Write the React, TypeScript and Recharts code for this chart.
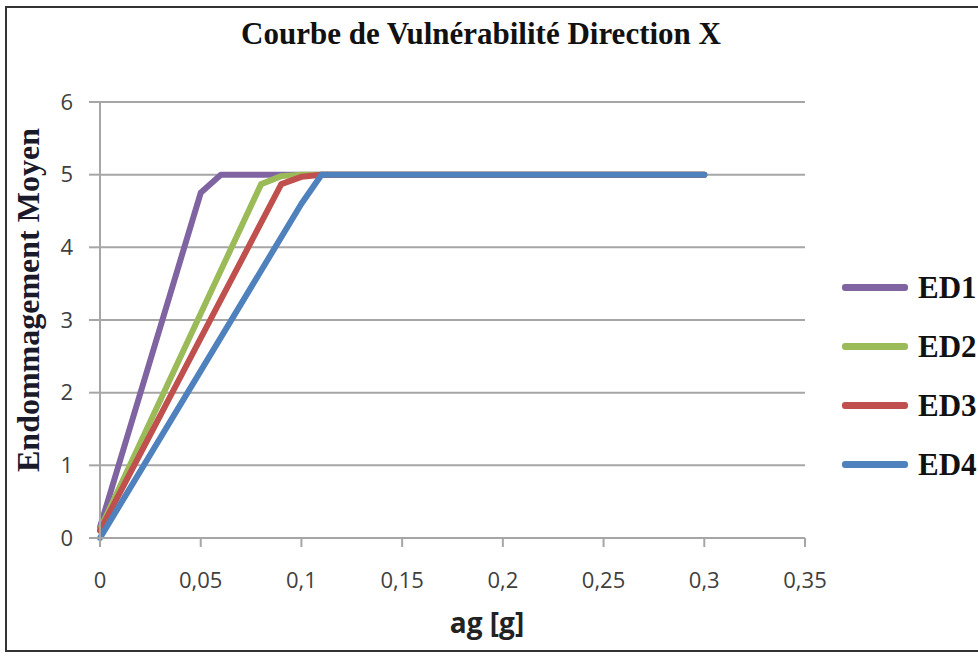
import { CartesianGrid, Line, LineChart, XAxis, YAxis } from 'recharts'

const xTicks = [0, 0.05, 0.1, 0.15, 0.2, 0.25, 0.3, 0.35]
const yTicks = [0, 1, 2, 3, 4, 5, 6]

const ed1Ag = [0, 0.05, 0.06, 0.3]
const ed1Val = [0.15, 4.75, 5, 5]
const ed2Ag = [0, 0.08, 0.09, 0.1, 0.3]
const ed2Val = [0.12, 4.87, 4.98, 5, 5]
const ed3Ag = [0, 0.09, 0.1, 0.11, 0.3]
const ed3Val = [0.1, 4.87, 4.97, 5, 5]
const ed4Ag = [0, 0.1, 0.11, 0.3]
const ed4Val = [0, 4.6, 5, 5]

const toRows = (ag: number[], v: number[]) => ag.map((a, i) => ({ ag: a, v: v[i] }))

const series = [
  { name: 'ED1', color: '#8064A2', data: toRows(ed1Ag, ed1Val) },
  { name: 'ED2', color: '#9BBB59', data: toRows(ed2Ag, ed2Val) },
  { name: 'ED3', color: '#C0504D', data: toRows(ed3Ag, ed3Val) },
  { name: 'ED4', color: '#4F81BD', data: toRows(ed4Ag, ed4Val) },
]

const serif = '"Liberation Serif", "Times New Roman", serif'
const sans = '"Open Sans", "Noto Sans", sans-serif'

function LegendBox() {
  return (
    <div style={{ position: 'absolute', left: 842, top: 258, fontFamily: serif }}>
      {series.map(s => (
        <div key={s.name} style={{ display: 'flex', alignItems: 'center', height: 59 }}>
          <div style={{ width: 66, height: 7, borderRadius: 3, background: s.color, marginRight: 10 }} />
          <span style={{ fontSize: 31, fontWeight: 'bold', color: '#111' }}>{s.name}</span>
        </div>
      ))}
    </div>
  )
}

export default function App() {
  return (
    <div style={{ position: 'absolute', left: 0, top: 0, width: 978, height: 658, overflow: 'hidden', background: '#fff' }}>
      <div style={{ position: 'absolute', left: 5, top: 6, width: 1000, height: 646, border: '2px solid #333', boxSizing: 'border-box' }} />
      <div style={{ position: 'absolute', left: 0, top: 16, width: 962, textAlign: 'center', fontFamily: serif, fontWeight: 'bold', fontSize: 31, color: '#111' }}>
        Courbe de Vulnérabilité Direction X
      </div>
      <div
        style={{
          position: 'absolute', left: 28, top: 300, transform: 'translate(-50%, -50%) rotate(-90deg)', whiteSpace: 'nowrap',
          fontFamily: serif, fontWeight: 'bold', fontSize: 32, color: '#1a1a2a',
        }}
      >
        Endommagement Moyen
      </div>
      <div style={{ position: 'absolute', left: 427, top: 603, width: 120, textAlign: 'center', fontFamily: sans, fontWeight: 'bold', fontSize: 28, color: '#222' }}>
        ag [g]
      </div>
      <LegendBox />
      <LineChart width={978} height={658} margin={{ top: 102, right: 173, bottom: 0, left: 0 }}>
        <CartesianGrid vertical={false} stroke="#a6a6a6" strokeWidth={2} />
        <XAxis
          type="number"
          dataKey="ag"
          domain={[0, 0.35]}
          ticks={xTicks}
          height={120}
          tickSize={9}
          tickMargin={25}
          stroke="#a6a6a6"
          strokeWidth={2}
          tick={{ fontSize: 22, fill: '#404040', fontFamily: sans }}
          tickFormatter={(v: number) => String(v).replace('.', ',')}
          allowDuplicatedCategory={false}
        />
        <YAxis
          type="number"
          domain={[0, 6]}
          ticks={yTicks}
          width={100}
          tickSize={11}
          tickMargin={16}
          stroke="#a6a6a6"
          strokeWidth={2}
          tick={{ fontSize: 22, fill: '#404040', fontFamily: sans }}
        />
        {series.map(s => (
          <Line
            key={s.name}
            data={s.data}
            dataKey="v"
            name={s.name}
            stroke={s.color}
            strokeWidth={6}
            strokeLinejoin="round"
            strokeLinecap="round"
            dot={false}
            isAnimationActive={false}
          />
        ))}
      </LineChart>
    </div>
  )
}
